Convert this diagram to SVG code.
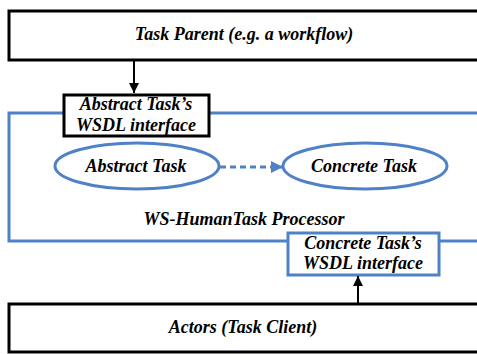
<svg xmlns="http://www.w3.org/2000/svg" width="477" height="354" viewBox="0 0 477 354">
<defs>
<marker id="ab" viewBox="0 0 10 10" refX="10" refY="5" markerWidth="5" markerHeight="5" orient="auto" markerUnits="strokeWidth"><path d="M0,0L10,5L0,10z" fill="#000"/></marker>
<marker id="au" viewBox="0 0 10 10" refX="10" refY="5" markerWidth="4" markerHeight="4" orient="auto" markerUnits="strokeWidth"><path d="M0,0L10,5L0,10z" fill="#4f81c7"/></marker>
</defs>
<rect width="477" height="354" fill="#fff"/>
<g id="processor">
<rect x="9" y="113" width="480" height="128" fill="none" stroke="#4f81c7" stroke-width="3"/>
<text x="244" y="225" font-family="Liberation Serif, Times New Roman, serif" font-weight="bold" font-style="italic" font-size="18" text-anchor="middle">WS-HumanTask Processor</text>
</g>
<g id="task-parent">
<rect x="9" y="11" width="480" height="49" fill="#fff" stroke="#000" stroke-width="3"/>
<text x="244" y="40" font-family="Liberation Serif, Times New Roman, serif" font-weight="bold" font-style="italic" font-size="18" text-anchor="middle">Task Parent (e.g. a workflow)</text>
</g>
<g id="abstract-wsdl">
<rect x="64" y="95" width="145" height="41" fill="#fff" stroke="#000" stroke-width="3"/>
<text x="136" y="110" font-family="Liberation Serif, Times New Roman, serif" font-weight="bold" font-style="italic" font-size="18" text-anchor="middle">Abstract Task&#8217;s</text>
<text x="136" y="131" font-family="Liberation Serif, Times New Roman, serif" font-weight="bold" font-style="italic" font-size="18" text-anchor="middle">WSDL interface</text>
</g>
<g id="abstract-task">
<ellipse cx="137" cy="166" rx="82" ry="23" fill="#fff" stroke="#4f81c7" stroke-width="3"/>
<text x="136" y="172" font-family="Liberation Serif, Times New Roman, serif" font-weight="bold" font-style="italic" font-size="18" text-anchor="middle">Abstract Task</text>
</g>
<g id="concrete-task">
<ellipse cx="365" cy="166" rx="82" ry="23" fill="#fff" stroke="#4f81c7" stroke-width="3"/>
<text x="364" y="172" font-family="Liberation Serif, Times New Roman, serif" font-weight="bold" font-style="italic" font-size="18" text-anchor="middle">Concrete Task</text>
</g>
<g id="concrete-wsdl">
<rect x="288" y="233" width="151" height="42" fill="#fff" stroke="#4f81c7" stroke-width="3"/>
<text x="363" y="249" font-family="Liberation Serif, Times New Roman, serif" font-weight="bold" font-style="italic" font-size="18" text-anchor="middle">Concrete Task&#8217;s</text>
<text x="363" y="269" font-family="Liberation Serif, Times New Roman, serif" font-weight="bold" font-style="italic" font-size="18" text-anchor="middle">WSDL interface</text>
</g>
<g id="actors">
<rect x="9" y="304" width="480" height="48" fill="#fff" stroke="#000" stroke-width="3"/>
<text x="243" y="333" font-family="Liberation Serif, Times New Roman, serif" font-weight="bold" font-style="italic" font-size="18" text-anchor="middle">Actors (Task Client)</text>
</g>
<g id="connectors">
<line x1="134" y1="61" x2="134" y2="93" stroke="#000" stroke-width="2" marker-end="url(#ab)"/>
<line x1="220" y1="167" x2="283" y2="167" stroke="#4f81c7" stroke-width="3" stroke-dasharray="6,4" marker-end="url(#au)"/>
<line x1="358" y1="303" x2="358" y2="276" stroke="#000" stroke-width="2" marker-end="url(#ab)"/>
</g>
</svg>
